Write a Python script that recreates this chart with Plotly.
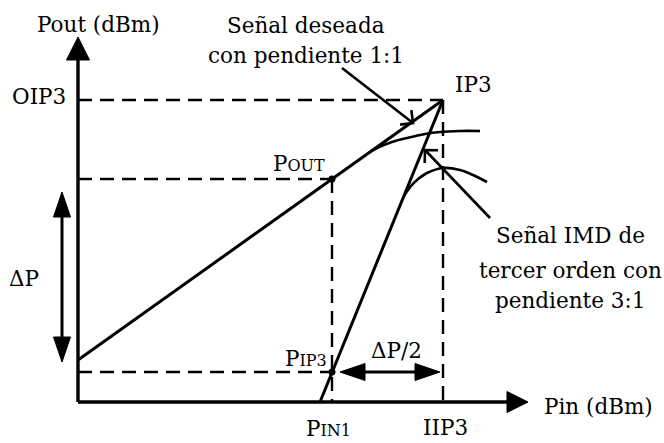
import numpy as np
import plotly.graph_objects as go

# Diagram units: Pin on x, Pout on y (origin at the axes' crossing)
X_AXIS_END = 450
Y_AXIS_END = 365

# Fundamental signal: 1:1 asymptote and its gain-compression curve
pin_fund = [0, 365]
pout_fund = [42, 302]
pin_fund_comp = [292, 299, 314, 329, 347, 362, 382, 402]
pout_fund_comp = [250, 254, 260, 264, 268, 270, 271, 271]

# Third-order IMD product: 3:1 asymptote and its compression curve
pin_imd = [242, 365]
pout_imd = [0, 302]
pin_imd_comp = [326, 333, 339, 349, 365, 382, 395, 409]
pout_imd_comp = [206, 216, 222, 229, 234, 232, 227, 220]

# Reference levels
OIP3 = 302
IIP3 = 365
PIN1 = 254
POUT = 223
PIP3 = 30

# Pointer arrows (tail -> tip) and dimension arrows
desired_ptr = [(264, 334), (335, 279)]
imd_ptr = [(412, 184), (347, 252)]
dp_x = -16
dp_y = [40, 210]
dp2_y = PIP3
dp2_x = [262, 362]

FONT = "DejaVu Serif"
FS = 21.5
BLACK = "#000000"

fig = go.Figure()


def line(xs, ys, width=3.0, dash=None, shape="linear"):
    fig.add_trace(go.Scatter(
        x=xs, y=ys, mode="lines", hoverinfo="skip",
        line=dict(color=BLACK, width=width, dash=dash, shape=shape)))


def filled_head(tip, tail, length, half):
    tip = np.asarray(tip, float)
    d = tip - np.asarray(tail, float)
    d /= np.hypot(*d)
    n = np.array([-d[1], d[0]])
    base = tip - length * d
    p1, p2 = base + half * n, base - half * n
    fig.add_trace(go.Scatter(
        x=[tip[0], p1[0], p2[0], tip[0]], y=[tip[1], p1[1], p2[1], tip[1]],
        mode="lines", fill="toself", fillcolor=BLACK, hoverinfo="skip",
        line=dict(color=BLACK, width=1)))
    return base


def arrow_filled(tail, tip, length, half, width=3.0, both=False):
    start = np.asarray(tail, float)
    end = filled_head(tip, tail, length, half)
    if both:
        start = filled_head(tail, tip, length, half)
    line([start[0], end[0]], [start[1], end[1]], width=width)


def arrow_open(tail, tip, arm=13, width=2.6):
    tip = np.asarray(tip, float)
    d = tip - np.asarray(tail, float)
    d /= np.hypot(*d)
    arms = []
    for ang in (np.pi / 4, -np.pi / 4):
        c, s = np.cos(ang), np.sin(ang)
        r = np.array([c * d[0] - s * d[1], s * d[0] + c * d[1]])
        arms.append(tip - arm * r)
    line([tail[0], tip[0]], [tail[1], tip[1]], width=width)
    line([arms[0][0], tip[0], arms[1][0]], [arms[0][1], tip[1], arms[1][1]],
         width=width)


# Dashed reference lines
DASH = "14px,8px"
line([0, IIP3], [OIP3, OIP3], width=2.4, dash=DASH)
line([IIP3, IIP3], [OIP3, 0], width=2.4, dash=DASH)
line([0, PIN1], [POUT, POUT], width=2.4, dash=DASH)
line([PIN1, PIN1], [POUT, 0], width=2.4, dash=DASH)
line([0, PIN1], [PIP3, PIP3], width=2.4, dash=DASH)

# Axes with arrowheads
arrow_filled((0, 0), (0, Y_AXIS_END), 23, 11.5, width=3.4)
arrow_filled((0, 0), (X_AXIS_END, 0), 21, 10.5, width=3.4)

# Asymptotes and compression curves
line(pin_fund, pout_fund, width=3)
line(pin_imd, pout_imd, width=3)
line(pin_fund_comp, pout_fund_comp, width=2.6, shape="spline")
line(pin_imd_comp, pout_imd_comp, width=2.6, shape="spline")

# Operating points
fig.add_trace(go.Scatter(
    x=[PIN1, PIN1], y=[POUT, PIP3], mode="markers", hoverinfo="skip",
    marker=dict(color=BLACK, size=7)))

# Pointer arrows
arrow_open(*desired_ptr)
arrow_open(*imd_ptr)

# Dimension arrows
arrow_filled((dp_x, dp_y[0]), (dp_x, dp_y[1]), 25, 8.5, width=3, both=True)
arrow_filled((dp2_x[0], dp2_y), (dp2_x[1], dp2_y), 25, 8.5, width=3, both=True)


def label(text, x, y, xanchor="center", size=FS):
    fig.add_annotation(x=x, y=y, text=text, showarrow=False,
                       xanchor=xanchor, yanchor="middle",
                       font=dict(family=FONT, size=size, color=BLACK))


def sc(t, size=16):
    return f"<span style='font-size:{size}px'>{t}</span>"


label("Pout (dBm)", 20, 378)
label("Pin (dBm)", 520, -4)
label("OIP3", -10, OIP3 + 4, xanchor="right")
label("IP3", IIP3 + 30, OIP3 + 16)
label("P" + sc("OUT"), PIN1 - 33, POUT + 16)
label("P" + sc("IP3"), PIN1 - 26, PIP3 + 14)
label("P" + sc("IN1"), PIN1 - 4, -26)
label("IIP3", IIP3 + 2, -25)
label("ΔP", -54, 124)
label("ΔP/2", (dp2_x[0] + dp2_x[1]) / 2 + 6, 52)
label("Señal deseada", 228, 377)
label("con pendiente 1:1", 228, 347)
label("Señal IMD de", 492, 167)
label("tercer orden con", 492, 132)
label("pendiente 3:1", 492, 102)

fig.update_layout(
    width=664, height=443,
    margin=dict(l=0, r=0, t=0, b=0),
    paper_bgcolor="white", plot_bgcolor="white",
    showlegend=False,
    xaxis=dict(range=[-78, 586], visible=False, fixedrange=True),
    yaxis=dict(range=[-41, 402], visible=False, fixedrange=True),
)

fig.write_html("out.html")
